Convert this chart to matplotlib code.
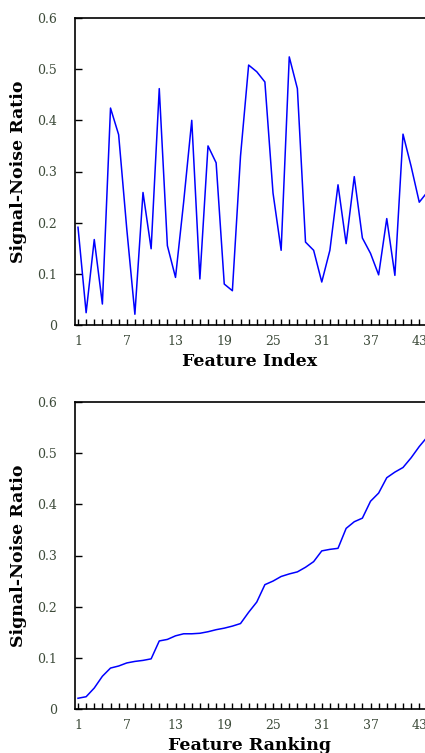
import matplotlib
matplotlib.use("Agg")
import matplotlib.pyplot as plt
from matplotlib.ticker import MultipleLocator, FixedLocator

# signal-noise ratio per feature (original order)
snr_index = [0.191, 0.024, 0.167, 0.041, 0.424, 0.372, 0.188, 0.021, 0.259, 0.149,
             0.462, 0.155, 0.093, 0.240, 0.400, 0.090, 0.350, 0.317, 0.080, 0.067,
             0.330, 0.508, 0.495, 0.475, 0.258, 0.146, 0.524, 0.462, 0.162, 0.146,
             0.084, 0.146, 0.274, 0.159, 0.290, 0.170, 0.140, 0.098, 0.208, 0.097,
             0.373, 0.310, 0.240, 0.260]

# same ratio, sorted ascending (ranking)
snr_rank = [0.021, 0.024, 0.041, 0.064, 0.080, 0.084, 0.090, 0.093, 0.095, 0.098,
            0.133, 0.136, 0.143, 0.147, 0.147, 0.148, 0.151, 0.155, 0.158, 0.162,
            0.167, 0.189, 0.209, 0.243, 0.250, 0.259, 0.264, 0.268, 0.277, 0.288,
            0.309, 0.312, 0.314, 0.353, 0.366, 0.373, 0.406, 0.422, 0.452, 0.463,
            0.472, 0.491, 0.513, 0.532]

xticks = [1, 7, 13, 19, 25, 31, 37, 43, 49]
yticks = [0, 0.1, 0.2, 0.3, 0.4, 0.5, 0.6]
ytick_labels = ["0", "0.1", "0.2", "0.3", "0.4", "0.5", "0.6"]

tick_color = "#3d4b3a"
label_font = dict(family="DejaVu Serif", fontweight="bold", fontsize=12.5)

fig = plt.figure(figsize=(4.25, 7.53), dpi=100)
W, H = 425, 753


def make_ax(top_px, bottom_px):
    # axes run past the right edge of the figure (picture is cropped)
    return fig.add_axes([75 / W, 1 - bottom_px / H, 400 / W, (bottom_px - top_px) / H])


panels = [
    (make_ax(18, 325), snr_index, "Feature Index"),
    (make_ax(402, 709), snr_rank, "Feature Ranking"),
]

for ax, vals, xlabel in panels:
    x = list(range(1, len(vals) + 1))
    ax.plot(x, vals, color="#0000ff", lw=1.1)
    ax.set_xlim(0.63, 49.86)
    ax.set_ylim(0, 0.6)
    ax.xaxis.set_major_locator(FixedLocator(xticks))
    ax.xaxis.set_minor_locator(MultipleLocator(1))
    ax.set_yticks(yticks)
    ax.set_yticklabels(ytick_labels)
    ax.tick_params(axis="both", which="both", direction="in", color="black",
                   labelcolor=tick_color, labelsize=9)
    ax.tick_params(axis="x", which="both", length=4, width=1, pad=7)
    ax.tick_params(axis="y", length=5, width=1, pad=13)
    for lab in ax.get_xticklabels() + ax.get_yticklabels():
        lab.set_family("DejaVu Serif")
    for sp in ax.spines.values():
        sp.set_linewidth(1.2)
    ax.set_ylabel("Signal-Noise Ratio", **label_font)
    ax.yaxis.set_label_coords(-0.12, 0.5)
    ax.set_xlabel(xlabel, **label_font)
    ax.xaxis.set_label_coords(175 / 400, -0.09)

fig.savefig("out.png", dpi=100)
